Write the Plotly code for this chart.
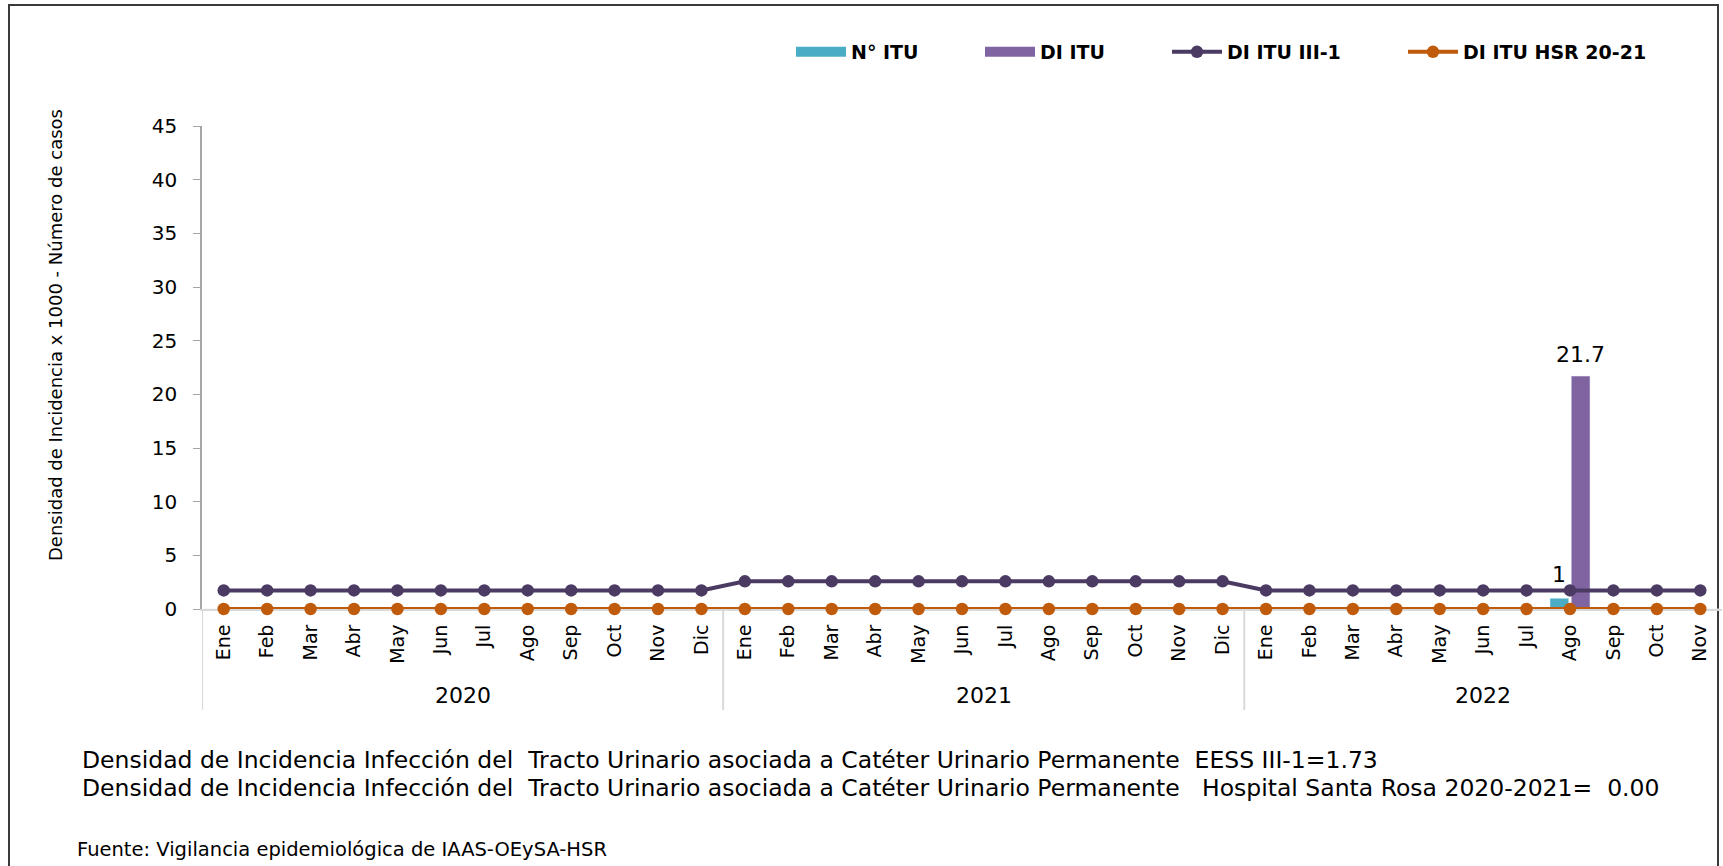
import plotly.graph_objects as go

# ---------------- data ----------------
years = ["2020", "2021", "2022"]
months_2020 = ["Ene", "Feb", "Mar", "Abr", "May", "Jun", "Jul", "Ago", "Sep", "Oct", "Nov", "Dic"]
months_2021 = ["Ene", "Feb", "Mar", "Abr", "May", "Jun", "Jul", "Ago", "Sep", "Oct", "Nov", "Dic"]
months_2022 = ["Ene", "Feb", "Mar", "Abr", "May", "Jun", "Jul", "Ago", "Sep", "Oct", "Nov"]
months = months_2020 + months_2021 + months_2022

n_itu = [0, 0, 0, 0, 0, 0, 0, 0, 0, 0, 0, 0,
         0, 0, 0, 0, 0, 0, 0, 0, 0, 0, 0, 0,
         0, 0, 0, 0, 0, 0, 0, 1, 0, 0, 0]
di_itu = [0, 0, 0, 0, 0, 0, 0, 0, 0, 0, 0, 0,
          0, 0, 0, 0, 0, 0, 0, 0, 0, 0, 0, 0,
          0, 0, 0, 0, 0, 0, 0, 21.7, 0, 0, 0]
di_itu_iii1 = [1.73, 1.73, 1.73, 1.73, 1.73, 1.73, 1.73, 1.73, 1.73, 1.73, 1.73, 1.73,
               2.58, 2.58, 2.58, 2.58, 2.58, 2.58, 2.58, 2.58, 2.58, 2.58, 2.58, 2.58,
               1.73, 1.73, 1.73, 1.73, 1.73, 1.73, 1.73, 1.73, 1.73, 1.73, 1.73]
di_itu_hsr = [0.00, 0.00, 0.00, 0.00, 0.00, 0.00, 0.00, 0.00, 0.00, 0.00, 0.00, 0.00,
              0.00, 0.00, 0.00, 0.00, 0.00, 0.00, 0.00, 0.00, 0.00, 0.00, 0.00, 0.00,
              0.00, 0.00, 0.00, 0.00, 0.00, 0.00, 0.00, 0.00, 0.00, 0.00, 0.00]

series_names = ["N° ITU", "DI ITU", "DI ITU III-1", "DI ITU HSR 20-21"]
y_title = "Densidad de Incidencia x 1000 - Número de casos"
note1 = "Densidad de Incidencia Infección del\u00a0 Tracto Urinario asociada a Catéter Urinario Permanente\u00a0 EESS III-1=1.73"
note2 = "Densidad de Incidencia Infección del\u00a0 Tracto Urinario asociada a Catéter Urinario Permanente\u00a0\u00a0 Hospital Santa Rosa 2020-2021=\u00a0 0.00"
source = "Fuente: Vigilancia epidemiológica de IAAS-OEySA-HSR"

# ---------------- styles ----------------
C_NITU = "#4BACC6"
C_DIITU = "#8064A2"
C_III1 = "#4B3A62"
C_HSR = "#BF5B0A"
FONT = "DejaVu Sans"

W, H = 1723, 866
L, R, T, B = 202, 1722, 126, 609


def px_x(px):
    return (px - L) / (R - L)


def px_y(py):
    return (B - py) / (B - T)


x = list(range(len(months)))
year_counts = [len(months_2020), len(months_2021), len(months_2022)]

fig = go.Figure()

fig.add_trace(go.Bar(x=x, y=n_itu, name=series_names[0], marker_color=C_NITU,
                     showlegend=False))
fig.add_trace(go.Bar(x=x, y=di_itu, name=series_names[1], marker_color=C_DIITU,
                     showlegend=False))
fig.add_trace(go.Scatter(x=x, y=di_itu_iii1, name=series_names[2], mode="lines+markers",
                         line=dict(color=C_III1, width=4), cliponaxis=False,
                         marker=dict(color=C_III1, size=12.5), legend="legend3"))
fig.add_trace(go.Scatter(x=x, y=di_itu_hsr, name=series_names[3], mode="lines+markers",
                         line=dict(color=C_HSR, width=4), cliponaxis=False,
                         marker=dict(color=C_HSR, size=12.5), legend="legend4"))

# legend proxies for the bar series (wide swatches)
fig.add_trace(go.Scatter(x=[None], y=[None], name=series_names[0], mode="lines",
                         line=dict(color=C_NITU, width=14), legend="legend", hoverinfo="skip"))
fig.add_trace(go.Scatter(x=[None], y=[None], name=series_names[1], mode="lines",
                         line=dict(color=C_DIITU, width=14), legend="legend2", hoverinfo="skip"))

leg_common = dict(orientation="h", yanchor="middle", y=px_y(52), xanchor="left",
                  bgcolor="rgba(0,0,0,0)", borderwidth=0, itemwidth=50,
                  font=dict(family=FONT, size=19, color="#000000", weight="bold"))

annotations = []
# data labels
slot = 1.0 / 2 * (1 - 0.02)
for i, v in enumerate(n_itu):
    if v:
        annotations.append(dict(x=x[i] - slot / 2, y=v, xref="x", yref="y", text=f"{v:g}",
                                showarrow=False, yanchor="bottom", yshift=9,
                                font=dict(family=FONT, size=22, color="#000000")))
for i, v in enumerate(di_itu):
    if v:
        annotations.append(dict(x=x[i] + slot / 2, y=v, xref="x", yref="y", text=f"{v:g}",
                                showarrow=False, yanchor="bottom", yshift=7,
                                font=dict(family=FONT, size=22, color="#000000")))

# year labels and dividers
shapes = []
start = 0
for yr, cnt in zip(years, year_counts):
    annotations.append(dict(x=start + (cnt - 1) / 2, y=px_y(695), xref="x", yref="paper",
                            text=yr, showarrow=False, xanchor="center", yanchor="middle",
                            font=dict(family=FONT, size=22, color="#000000")))
    shapes.append(dict(type="line", xref="x", yref="paper", x0=start - 0.5, x1=start - 0.5,
                       y0=0, y1=px_y(710), line=dict(color="#D9D9D9", width=2),
                       layer="below"))
    start += cnt

# axis title
annotations.append(dict(x=px_x(55), y=px_y(335), xref="paper", yref="paper", text=y_title,
                        textangle=-90, showarrow=False, xanchor="center", yanchor="middle",
                        font=dict(family=FONT, size=18, color="#000000")))
# notes
annotations.append(dict(x=px_x(80), y=px_y(760), xref="paper", yref="paper", text=note1,
                        showarrow=False, xanchor="left", yanchor="middle",
                        font=dict(family=FONT, size=23.5, color="#000000")))
annotations.append(dict(x=px_x(80), y=px_y(788), xref="paper", yref="paper", text=note2,
                        showarrow=False, xanchor="left", yanchor="middle",
                        font=dict(family=FONT, size=23.5, color="#000000")))
annotations.append(dict(x=px_x(75), y=px_y(850), xref="paper", yref="paper", text=source,
                        showarrow=False, xanchor="left", yanchor="middle",
                        font=dict(family=FONT, size=19.5, color="#000000")))

# outer frame
shapes.append(dict(type="rect", xref="paper", yref="paper", x0=px_x(9), x1=px_x(1718),
                   y0=px_y(880), y1=px_y(5), line=dict(color="#3A3A3A", width=2),
                   fillcolor="rgba(0,0,0,0)", layer="below"))

fig.update_layout(
    width=W, height=H,
    margin=dict(l=L, r=W - R, t=T, b=H - B, autoexpand=False),
    paper_bgcolor="#FFFFFF", plot_bgcolor="#FFFFFF",
    barmode="group", bargap=0.02, bargroupgap=0.12,
    font=dict(family=FONT, color="#000000"),
    legend=dict(leg_common, x=px_x(791)),
    legend2=dict(leg_common, x=px_x(980)),
    legend3=dict(leg_common, x=px_x(1167)),
    legend4=dict(leg_common, x=px_x(1403)),
    annotations=annotations,
    shapes=shapes,
)

fig.update_xaxes(type="linear", range=[-0.5, len(months) - 0.5], tickmode="array",
                 tickvals=x, ticktext=months, tickangle=-90, ticks="",
                 showgrid=False, zeroline=False, showline=True, linecolor="#D9D9D9",
                 linewidth=2, layer="below traces",
                 tickfont=dict(family=FONT, size=19, color="#000000"),
                 ticklabelstandoff=6, automargin=False, fixedrange=True)
fig.update_yaxes(range=[0, 45], dtick=5, tick0=0, ticks="outside", ticklen=7,
                 tickcolor="#A6A6A6", showgrid=False, zeroline=False, showline=True,
                 linecolor="#A6A6A6", linewidth=1.5, layer="below traces",
                 tickfont=dict(family=FONT, size=20, color="#000000"),
                 ticklabelstandoff=12, automargin=False, fixedrange=True)

fig.write_html("out.html", config={"displayModeBar": False},
               post_script="document.body.style.margin='0px';document.body.style.overflow='hidden';")
